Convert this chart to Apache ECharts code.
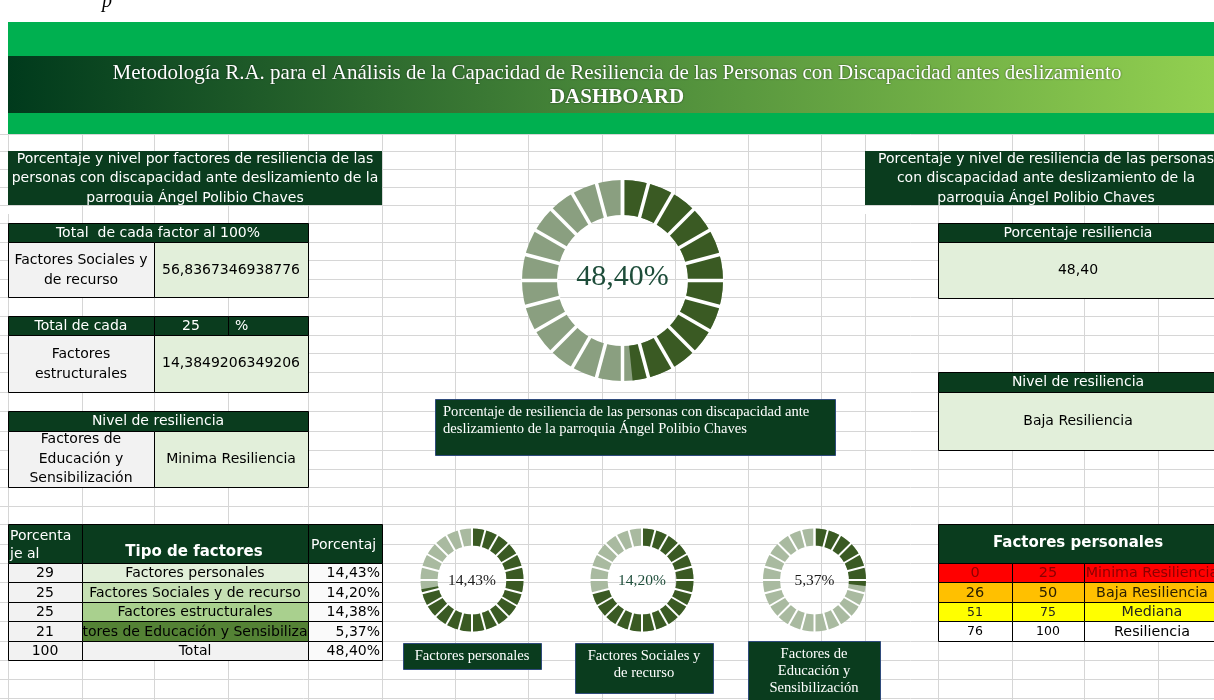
<!DOCTYPE html>
<html>
<head>
<meta charset="utf-8">
<script src="https://cdn.jsdelivr.net/npm/echarts@6/dist/echarts.min.js"></script>
<style>
  html, body { margin: 0; padding: 0; background: #ffffff; }
  #main { width: 1214px; height: 700px; }
</style>
</head>
<body>
<div id="main"></div>
<script>
// ---------- datos ----------
const resilienciaTotal = 48.40;
const factores = ['Factores personales', 'Factores Sociales y de recurso', 'Factores estructurales', 'Factores de Educación y Sensibilización'];
const factoresVisibles = ['Factores personales', 'Factores Sociales y de recurso', 'Factores estructurales', 'tores de Educación y Sensibiliza'];
const pesoFactor = [29, 25, 25, 21];
const porcentajeFactor = [14.43, 14.20, 14.38, 5.37];
const anillosFactor = [0, 1, 3];                 // factores con anillo propio
const rotulosAnillo = ['Factores personales', 'Factores Sociales y\nde recurso', 'Factores de\nEducación y\nSensibilización'];
const escalaAnilloFactor = 20;                    // máximo de los anillos pequeños
const segmentosAnillo = 24;
const nivelMin = [0, 26, 51, 76];
const nivelMax = [25, 50, 75, 100];
const nivelNombre = ['Minima Resiliencia', 'Baja Resiliencia', 'Mediana', 'Resiliencia'];
const totalSocialesAl100 = '56,8367346938776';
const totalEstructurales = '14,3849206349206';
const porcentajeEstructuralesBase = 25;
const nivelEducacion = 'Minima Resiliencia';

// ---------- estilo ----------
const DARK = '#0A3C1E';
const GRAY = '#F2F2F2';
const LGREEN = '#E2EFDA';
const RING_DARK = '#3A5A23';
const GRID = '#D6D6D6';
const SANS = '"DejaVu Sans", sans-serif';
const SERIF = '"Liberation Serif", serif';
const F_CELL = '14px ' + SANS;
const F_CAP = '14.6px ' + SERIF;
const cols = [8, 82, 154, 228, 308, 382, 455, 528, 602, 675, 748, 821, 865, 938, 1012, 1084, 1158];
const rows = [134, 151, 169, 187, 205, 223, 242, 260, 279, 297, 316, 335, 353, 372, 392, 411, 431, 450, 469, 487, 506, 524, 544, 563, 582, 602, 621, 641, 660, 679, 698];

const fmt = v => v.toFixed(2).replace('.', ',');
const G = [];

function line(x1, y1, x2, y2, c, z) {
  G.push({ type: 'line', z: z || 0, silent: true, shape: { x1, y1, x2, y2 }, style: { stroke: c, lineWidth: 1 } });
}
function box(x0, y0, x1, y1, fill, stroke, z) {
  const o = stroke ? 0.5 : 0;
  G.push({ type: 'rect', z: z || 1, silent: true,
    shape: { x: x0 + o, y: y0 + o, width: x1 - x0, height: y1 - y0 },
    style: { fill: fill, stroke: stroke || null, lineWidth: 1 } });
}
function txt(x, y, s, o) {
  o = o || {};
  G.push({ type: 'text', z: 3, silent: true, x: x, y: y,
    style: { text: s, font: o.font || F_CELL, fill: o.color || '#000',
      textAlign: o.align || 'center', textVerticalAlign: 'middle', lineHeight: o.lh || 19,
      textShadowColor: o.shadow || 'transparent', textShadowBlur: o.shadow ? 2 : 0 } });
}
// recorte inferior de un bloque combinado (el texto que sobresale queda oculto)
function recorte(x0, x1, y0, y1) {
  box(x0, y0, x1, y1, '#ffffff', null, 4);
  cols.filter(x => x > x0 && x < x1).forEach(x => line(x + 0.5, y0, x + 0.5, y1, GRID, 5));
}

// cuadrícula de la hoja
cols.forEach(x => line(x + 0.5, 134, x + 0.5, 700, GRID));
rows.forEach(y => line(0, y + 0.5, 1214, y + 0.5, GRID));

// encabezado
txt(107, 2, 'p', { font: 'italic 20px ' + SERIF });
box(8, 22, 1214, 56, '#00B050');
G.push({ type: 'rect', z: 1, silent: true, shape: { x: 8, y: 56, width: 1206, height: 57 },
  style: { fill: { type: 'linear', x: 0, y: 0, x2: 1, y2: 0,
    colorStops: [{ offset: 0, color: '#003A1C' }, { offset: 0.5, color: '#4A893A' }, { offset: 1, color: '#92D050' }] } } });
box(8, 113, 1214, 134, '#00B050');
txt(617, 73, 'Metodología R.A. para el Análisis de la Capacidad de Resiliencia de las Personas con Discapacidad antes deslizamiento',
  { font: '21px ' + SERIF, color: '#fff', shadow: 'rgba(0,0,0,0.6)' });
txt(617, 98, 'DASHBOARD', { font: 'bold 21px ' + SERIF, color: '#fff', shadow: 'rgba(0,0,0,0.6)' });

// panel izquierdo
box(8, 151, 382, 205, DARK);
txt(195, 178.5, 'Porcentaje y nivel por factores de resiliencia de las\npersonas con discapacidad ante deslizamiento de la\nparroquia Ángel Polibio Chaves', { color: '#fff', lh: 19.5 });
recorte(8, 382, 206, 214);

box(8, 223, 308, 242, DARK, '#000');
txt(158, 233, 'Total  de cada factor al 100%', { color: '#fff' });
box(8, 242, 154, 297, GRAY, '#000');
txt(81, 270, 'Factores Sociales y\nde recurso', { lh: 20 });
box(154, 242, 308, 297, LGREEN, '#000');
txt(231, 270, totalSocialesAl100);

box(8, 316, 154, 335, DARK, '#000');
box(154, 316, 228, 335, DARK, '#000');
box(228, 316, 308, 335, DARK, '#000');
txt(81, 326, 'Total de cada', { color: '#fff' });
txt(191, 326, String(porcentajeEstructuralesBase), { color: '#fff' });
txt(235, 326, '%', { color: '#fff', align: 'left' });
box(8, 335, 154, 392, GRAY, '#000');
txt(81, 364, 'Factores\nestructurales', { lh: 20 });
box(154, 335, 308, 392, LGREEN, '#000');
txt(231, 363, totalEstructurales);

box(8, 411, 308, 431, DARK, '#000');
txt(158, 421, 'Nivel de resiliencia', { color: '#fff' });
box(8, 431, 154, 487, GRAY, '#000');
txt(81, 459, 'Factores de\nEducación y\nSensibilización', { lh: 19.5 });
box(154, 431, 308, 487, LGREEN, '#000');
txt(231, 459, nivelEducacion);

// tabla de tipos de factores
box(8, 524, 82, 563, DARK, '#000');
box(82, 524, 308, 563, DARK, '#000');
box(308, 524, 382, 563, DARK, '#000');
txt(10, 545, 'Porcenta\nje al', { color: '#fff', align: 'left', lh: 18 });
txt(194, 552, 'Tipo de factores', { color: '#fff', font: 'bold 15px ' + SANS });
txt(311, 545, 'Porcentaj', { color: '#fff', align: 'left' });
const filaY = [563, 582, 602, 621, 641, 660];
const tipoFill = ['#E2EFDA', '#C6E0B4', '#A9D08E', '#548235', GRAY];
const pesoTotal = pesoFactor.reduce((a, b) => a + b, 0);
for (let i = 0; i < 5; i++) {
  const y0 = filaY[i], y1 = filaY[i + 1], yc = (y0 + y1) / 2 + 1;
  box(8, y0, 82, y1, GRAY, '#000');
  box(82, y0, 308, y1, tipoFill[i], '#000');
  box(308, y0, 382, y1, '#FAFAFA', '#000');
  txt(45, yc, String(i < 4 ? pesoFactor[i] : pesoTotal));
  txt(195, yc, i < 4 ? factoresVisibles[i] : 'Total');
  txt(380, yc, fmt(i < 4 ? porcentajeFactor[i] : resilienciaTotal) + '%', { align: 'right' });
}

// panel derecho
box(865, 151, 1214, 205, DARK);
txt(1046, 178.5, 'Porcentaje y nivel de resiliencia de las personas\ncon discapacidad ante deslizamiento de la\nparroquia Ángel Polibio Chaves', { color: '#fff', lh: 19.5 });
recorte(865, 1214, 206, 214);
box(938, 223, 1214, 242, DARK, '#000');
txt(1078, 233, 'Porcentaje resiliencia', { color: '#fff' });
box(938, 242, 1214, 298, LGREEN, '#000');
txt(1078, 270, fmt(resilienciaTotal));
const nivelIdx = nivelMin.findIndex((m, i) => resilienciaTotal >= m && resilienciaTotal <= nivelMax[i] + 0.99);
box(938, 372, 1214, 392, DARK, '#000');
txt(1078, 382, 'Nivel de resiliencia', { color: '#fff' });
box(938, 392, 1214, 450, LGREEN, '#000');
txt(1078, 421, nivelNombre[nivelIdx]);

box(938, 524, 1214, 563, DARK, '#000');
txt(1078, 543, 'Factores personales', { color: '#fff', font: 'bold 15px ' + SANS });
const nivelFill = ['#FF0000', '#FFC000', '#FFFF00', '#FFFFFF'];
const nivelColor = ['#8B0000', '#2B2000', '#222222', '#000000'];
for (let i = 0; i < 4; i++) {
  const y0 = filaY[i], y1 = filaY[i + 1], yc = (y0 + y1) / 2 + 1;
  const f = (i < 2 ? '14.5px ' : '12.5px ') + SANS;
  box(938, y0, 1012, y1, nivelFill[i], '#000');
  box(1012, y0, 1084, y1, nivelFill[i], '#000');
  box(1084, y0, 1214, y1, nivelFill[i], '#000');
  txt(975, yc, String(nivelMin[i]), { color: nivelColor[i], font: f });
  txt(1048, yc, String(nivelMax[i]), { color: nivelColor[i], font: f });
  txt(1152, yc, nivelNombre[i], { color: nivelColor[i], font: '14.3px ' + SANS });
}

// rótulos de los anillos
box(435, 399, 835, 455, DARK, '#2F4B7C');
txt(443, 421, 'Porcentaje de resiliencia de las personas con discapacidad ante\ndeslizamiento de la parroquia Ángel Polibio Chaves',
  { color: '#fff', align: 'left', font: F_CAP, lh: 17 });
const rotuloCaja = [[403, 643, 541, 669], [575, 643, 713, 693], [748, 641, 880, 702]];
rotuloCaja.forEach((b, i) => {
  box(b[0], b[1], b[2], b[3], DARK, '#2F4B7C');
  const n = rotulosAnillo[i].split('\n').length;
  txt((b[0] + b[2]) / 2, b[1] + 13 + (n - 1) * 8.5, rotulosAnillo[i], { color: '#fff', font: F_CAP, lh: 17 });
});

// anillos segmentados: progreso sobre el eje + líneas blancas de separación
function anillo(center, radius, width, max, value, light, labelFont, labelColor, dy, gap) {
  const base = {
    type: 'gauge', center: center, radius: radius, startAngle: 90, endAngle: -270,
    min: 0, max: max, splitNumber: segmentosAnillo, silent: true, animation: false,
    pointer: { show: false }, anchor: { show: false }, title: { show: false },
    axisTick: { show: false }, axisLabel: { show: false }
  };
  return [
    Object.assign({}, base, {
      z: 10,
      axisLine: { show: true, roundCap: false, lineStyle: { width: width, color: [[1, light]] } },
      progress: { show: true, overlap: true, roundCap: false, width: width, itemStyle: { color: RING_DARK } },
      splitLine: { show: false },
      detail: { show: true, offsetCenter: [0, dy], valueAnimation: false,
        formatter: v => fmt(v) + '%', fontFamily: SERIF, fontSize: labelFont, fontWeight: 'normal', color: labelColor },
      data: [{ value: value }]
    }),
    Object.assign({}, base, {
      z: 11,
      axisLine: { show: false, lineStyle: { width: width } },
      progress: { show: false },
      splitLine: { show: true, distance: -width - 1, length: width + 2, lineStyle: { color: '#ffffff', width: gap } },
      detail: { show: false },
      data: [{ value: value }]
    })
  ];
}

const centrosAnillo = [[472, 580], [642, 580], [814.5, 580]];
const colorEtiqueta = ['#1a1a1a', '#1E4D3A', '#1a1a1a'];
let series = anillo([622.5, 280.5], 100.5, 35, 100, resilienciaTotal, '#8A9F80', 30, '#1E4D3A', -3, 3.5);
anillosFactor.forEach((f, i) => {
  series = series.concat(anillo(centrosAnillo[i], 51.5, 17, escalaAnilloFactor, porcentajeFactor[f], '#A9BAA0', 15.5, colorEtiqueta[i], 1, 2));
});

const chart = echarts.init(document.getElementById('main'), null, { renderer: 'canvas' });
chart.setOption({
  animation: false,
  graphic: { elements: G },
  series: series
});
</script>
</body>
</html>
